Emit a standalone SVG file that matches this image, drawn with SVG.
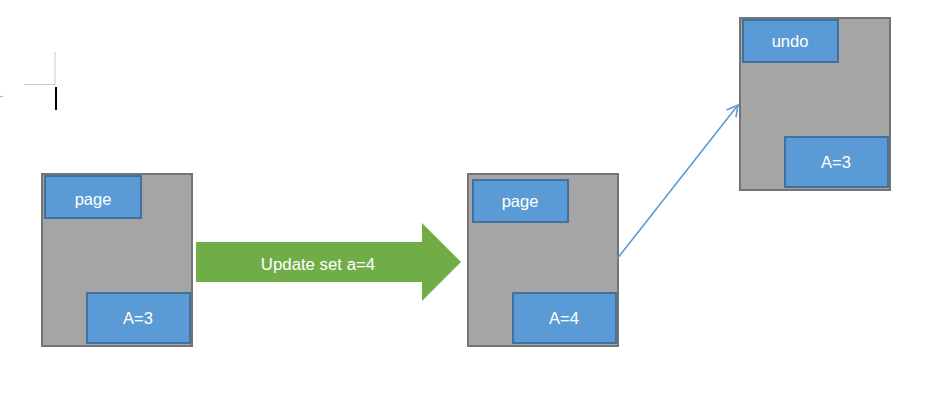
<svg xmlns="http://www.w3.org/2000/svg" width="938" height="415" viewBox="0 0 938 415">
<style>
.outer{fill:#a5a5a5;stroke:#747474;stroke-width:2}
.inner{fill:#5b9bd5;stroke:#41719c;stroke-width:2}
.lbl{font-family:"Liberation Sans",Arial,sans-serif;font-size:16.5px;fill:#ffffff;text-anchor:middle}
.conn{stroke:#5b9bd5;stroke-width:1.6;fill:none}
</style>
<defs>
<marker id="open" markerWidth="14" markerHeight="14" refX="12" refY="7" orient="auto" markerUnits="userSpaceOnUse">
<path d="M1,1 L12,7 L1,13" fill="none" stroke="#5b9bd5" stroke-width="1.6"/>
</marker>
</defs>
<rect width="938" height="415" fill="#ffffff"/>
<g id="cropmarks">
<line x1="55" y1="52" x2="55" y2="84.5" stroke="#c8c8c8" stroke-width="1"/>
<line x1="24" y1="84.5" x2="55" y2="84.5" stroke="#c8c8c8" stroke-width="1"/>
<line x1="56" y1="87" x2="56" y2="110" stroke="#000000" stroke-width="2"/>
<line x1="0" y1="97" x2="3" y2="96" stroke="#aaaaaa" stroke-width="1"/>
</g>
<g id="node-page1">
<rect class="outer" x="42" y="174" width="150" height="172"/>
<rect class="inner" x="45" y="176" width="96" height="42"/>
<text class="lbl" x="93" y="205">page</text>
<rect class="inner" x="87" y="293" width="103" height="50"/>
<text class="lbl" x="138" y="324">A=3</text>
</g>
<g id="node-update-arrow">
<polygon points="196,242 422,242 422,223 461,262 422,301 422,282 196,282" fill="#70ad47"/>
<text x="318" y="270" font-family="'Liberation Sans',Arial,sans-serif" font-size="16.8" fill="#ffffff" text-anchor="middle">Update set a=4</text>
</g>
<g id="node-page2">
<rect class="outer" x="468" y="174" width="150" height="172"/>
<rect class="inner" x="473" y="180" width="95" height="42"/>
<text class="lbl" x="520" y="207">page</text>
<rect class="inner" x="513" y="293" width="103" height="50"/>
<text class="lbl" x="564" y="324">A=4</text>
</g>
<g id="node-undo">
<rect class="outer" x="740" y="18" width="150" height="172"/>
<rect class="inner" x="743" y="20" width="95" height="42"/>
<text class="lbl" x="790" y="47">undo</text>
<rect class="inner" x="785" y="137" width="103" height="50"/>
<text class="lbl" x="836" y="168">A=3</text>
</g>
<g id="connectors">
<line class="conn" x1="617" y1="259" x2="738" y2="105" marker-end="url(#open)"/>
</g>
</svg>
